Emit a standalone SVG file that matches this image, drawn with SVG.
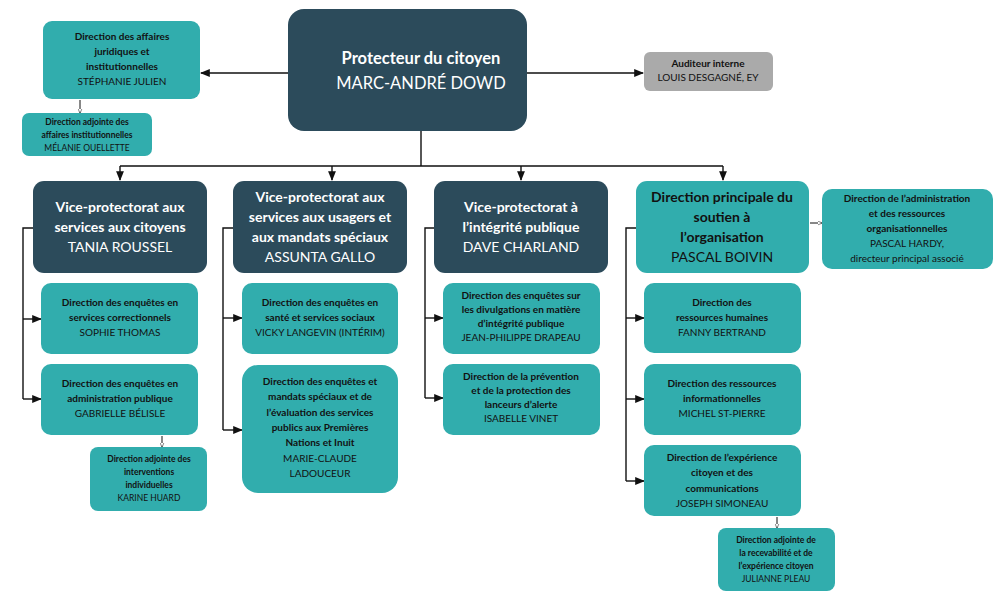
<svg xmlns="http://www.w3.org/2000/svg" width="1000" height="595" viewBox="0 0 1000 595">
<style>
text{font-family:Lato,"Open Sans","Liberation Sans",sans-serif;text-anchor:middle}
.d{fill:#2c4b5b}.t{fill:#31adad}.g{fill:#aaaaaa}
.w{fill:#fff}.k{fill:#111}
.b{font-weight:bold}
.s{font-size:10px}.xs{font-size:8.5px}.m{font-size:14px}.l{font-size:16.5px}
.c{stroke:#111;stroke-width:1.4;fill:none}
</style>
<defs>
<marker id="a" viewBox="0 0 10 10" refX="9" refY="5" markerWidth="7" markerHeight="7" orient="auto"><path d="M0,1L10,5L0,9z" fill="#111"/></marker>
<marker id="o" viewBox="0 0 10 10" refX="9" refY="5" markerWidth="5" markerHeight="5" orient="auto"><path d="M0,1L10,5L0,9z" fill="#fff" stroke="#111"/></marker>
</defs>
<g id="connectors" class="c">
<path d="M288,73H201" marker-end="url(#a)"/>
<path d="M527,73H643" marker-end="url(#a)"/>
<path d="M80,100V113" stroke-width="1" marker-end="url(#o)"/>
<path d="M421,131V166M120,166H723"/>
<path d="M120,166V180" marker-end="url(#a)"/>
<path d="M332,166V180" marker-end="url(#a)"/>
<path d="M521,166V180" marker-end="url(#a)"/>
<path d="M723,166V180" marker-end="url(#a)"/>
<path d="M810,223H822" stroke-width="1" marker-end="url(#o)"/>
<path d="M33,228H23V399"/><path d="M23,319H41" marker-end="url(#a)"/><path d="M23,399H41" marker-end="url(#a)"/>
<path d="M162,436V447" stroke-width="1" marker-end="url(#o)"/>
<path d="M233,228H223V430"/><path d="M223,318H242" marker-end="url(#a)"/><path d="M223,430H242" marker-end="url(#a)"/>
<path d="M434,228H425V398"/><path d="M425,318H443" marker-end="url(#a)"/><path d="M425,398H443" marker-end="url(#a)"/>
<path d="M636,228H626V481"/><path d="M626,318H644" marker-end="url(#a)"/><path d="M626,399H644" marker-end="url(#a)"/><path d="M626,481H644" marker-end="url(#a)"/>
<path d="M777,517V528" stroke-width="1" marker-end="url(#o)"/>
</g>
<g id="protecteur"><rect class="d" x="288" y="9" width="239" height="122" rx="16"/>
<text class="w b l" x="421" y="64">Protecteur du citoyen</text><text class="w l" x="421" y="89">MARC-ANDRÉ DOWD</text></g>
<g id="juridiques"><rect class="t" x="43" y="21" width="157" height="78" rx="9"/>
<text class="k s" x="122" y="40"><tspan class="b">Direction des affaires</tspan><tspan class="b" x="122" dy="15">juridiques et</tspan><tspan class="b" x="122" dy="15">institutionnelles</tspan><tspan x="122" dy="15">STÉPHANIE JULIEN</tspan></text></g>
<g id="adj-inst"><rect class="t" x="22" y="113" width="130" height="43" rx="7"/>
<text class="k xs" x="87" y="125"><tspan class="b">Direction adjointe des</tspan><tspan class="b" x="87" dy="13">affaires institutionnelles</tspan><tspan x="87" dy="13">MÉLANIE OUELLETTE</tspan></text></g>
<g id="auditeur"><rect class="g" x="644" y="52" width="129" height="39" rx="6"/>
<text class="k s" x="708" y="67"><tspan class="b">Auditeur interne</tspan><tspan x="708" dy="14">LOUIS DESGAGNÉ, EY</tspan></text></g>
<g id="vp1"><rect class="d" x="33" y="181" width="174" height="92" rx="11"/>
<text class="w m" x="120" y="212"><tspan class="b">Vice-protectorat aux</tspan><tspan class="b" x="120" dy="20">services aux citoyens</tspan><tspan x="120" dy="20">TANIA ROUSSEL</tspan></text></g>
<g id="vp2"><rect class="d" x="233" y="181" width="174" height="92" rx="11"/>
<text class="w m" x="320" y="202"><tspan class="b">Vice-protectorat aux</tspan><tspan class="b" x="320" dy="20">services aux usagers et</tspan><tspan class="b" x="320" dy="20">aux mandats spéciaux</tspan><tspan x="320" dy="20">ASSUNTA GALLO</tspan></text></g>
<g id="vp3"><rect class="d" x="434" y="181" width="174" height="92" rx="11"/>
<text class="w m" x="521" y="212"><tspan class="b">Vice-protectorat à</tspan><tspan class="b" x="521" dy="20">l’intégrité publique</tspan><tspan x="521" dy="20">DAVE CHARLAND</tspan></text></g>
<g id="dp"><rect class="t" x="636" y="181" width="173" height="92" rx="11"/>
<text class="k m" x="722" y="202"><tspan class="b">Direction principale du</tspan><tspan class="b" x="722" dy="20">soutien à</tspan><tspan class="b" x="722" dy="20">l’organisation</tspan><tspan x="722" dy="20">PASCAL BOIVIN</tspan></text></g>
<g id="dao"><rect class="t" x="822" y="189" width="171" height="80" rx="10"/>
<text class="k s" x="907" y="202"><tspan class="b">Direction de l’administration</tspan><tspan class="b" x="907" dy="15">et des ressources</tspan><tspan class="b" x="907" dy="15">organisationnelles</tspan><tspan x="907" dy="15">PASCAL HARDY,</tspan><tspan x="907" dy="15">directeur principal associé</tspan></text></g>
<g id="c1a"><rect class="t" x="41" y="283" width="157" height="71" rx="10"/>
<text class="k s" x="120" y="306"><tspan class="b">Direction des enquêtes en</tspan><tspan class="b" x="120" dy="15">services correctionnels</tspan><tspan x="120" dy="15">SOPHIE THOMAS</tspan></text></g>
<g id="c1b"><rect class="t" x="41" y="364" width="157" height="71" rx="10"/>
<text class="k s" x="120" y="387"><tspan class="b">Direction des enquêtes en</tspan><tspan class="b" x="120" dy="15">administration publique</tspan><tspan x="120" dy="15">GABRIELLE BÉLISLE</tspan></text></g>
<g id="c1c"><rect class="t" x="90" y="447" width="117" height="64" rx="8"/>
<text class="k xs" x="149" y="462"><tspan class="b">Direction adjointe des</tspan><tspan class="b" x="149" dy="13">interventions</tspan><tspan class="b" x="149" dy="13">individuelles</tspan><tspan x="149" dy="13">KARINE HUARD</tspan></text></g>
<g id="c2a"><rect class="t" x="242" y="283" width="156" height="71" rx="10"/>
<text class="k s" x="320" y="306"><tspan class="b">Direction des enquêtes en</tspan><tspan class="b" x="320" dy="15">santé et services sociaux</tspan><tspan x="320" dy="15">VICKY LANGEVIN (INTÉRIM)</tspan></text></g>
<g id="c2b"><rect class="t" x="242" y="365" width="156" height="128" rx="16"/>
<text class="k s" x="320" y="385"><tspan class="b">Direction des enquêtes et</tspan><tspan class="b" x="320" dy="15.3">mandats spéciaux et de</tspan><tspan class="b" x="320" dy="15.3">l’évaluation des services</tspan><tspan class="b" x="320" dy="15.3">publics aux Premières</tspan><tspan class="b" x="320" dy="15.3">Nations et Inuit</tspan><tspan x="320" dy="15.3">MARIE-CLAUDE</tspan><tspan x="320" dy="15.3">LADOUCEUR</tspan></text></g>
<g id="c3a"><rect class="t" x="443" y="283" width="157" height="71" rx="10"/>
<text class="k s" x="521" y="299"><tspan class="b">Direction des enquêtes sur</tspan><tspan class="b" x="521" dy="14">les divulgations en matière</tspan><tspan class="b" x="521" dy="14">d’intégrité publique</tspan><tspan x="521" dy="14">JEAN-PHILIPPE DRAPEAU</tspan></text></g>
<g id="c3b"><rect class="t" x="443" y="364" width="157" height="71" rx="10"/>
<text class="k s" x="521" y="380"><tspan class="b">Direction de la prévention</tspan><tspan class="b" x="521" dy="14">et de la protection des</tspan><tspan class="b" x="521" dy="14">lanceurs d’alerte</tspan><tspan x="521" dy="14">ISABELLE VINET</tspan></text></g>
<g id="c4a"><rect class="t" x="644" y="283" width="157" height="70" rx="10"/>
<text class="k s" x="722" y="306"><tspan class="b">Direction des</tspan><tspan class="b" x="722" dy="15">ressources humaines</tspan><tspan x="722" dy="15">FANNY BERTRAND</tspan></text></g>
<g id="c4b"><rect class="t" x="644" y="364" width="157" height="71" rx="10"/>
<text class="k s" x="722" y="387"><tspan class="b">Direction des ressources</tspan><tspan class="b" x="722" dy="15">informationnelles</tspan><tspan x="722" dy="15">MICHEL ST-PIERRE</tspan></text></g>
<g id="c4c"><rect class="t" x="644" y="445" width="157" height="71" rx="10"/>
<text class="k s" x="722" y="461"><tspan class="b">Direction de l’expérience</tspan><tspan class="b" x="722" dy="15.3">citoyen et des</tspan><tspan class="b" x="722" dy="15.3">communications</tspan><tspan x="722" dy="15.3">JOSEPH SIMONEAU</tspan></text></g>
<g id="c4d"><rect class="t" x="718" y="528" width="117" height="63" rx="8"/>
<text class="k xs" x="776" y="543"><tspan class="b">Direction adjointe de</tspan><tspan class="b" x="776" dy="13">la recevabilité et de</tspan><tspan class="b" x="776" dy="13">l’expérience citoyen</tspan><tspan x="776" dy="13">JULIANNE PLEAU</tspan></text></g>
</svg>
